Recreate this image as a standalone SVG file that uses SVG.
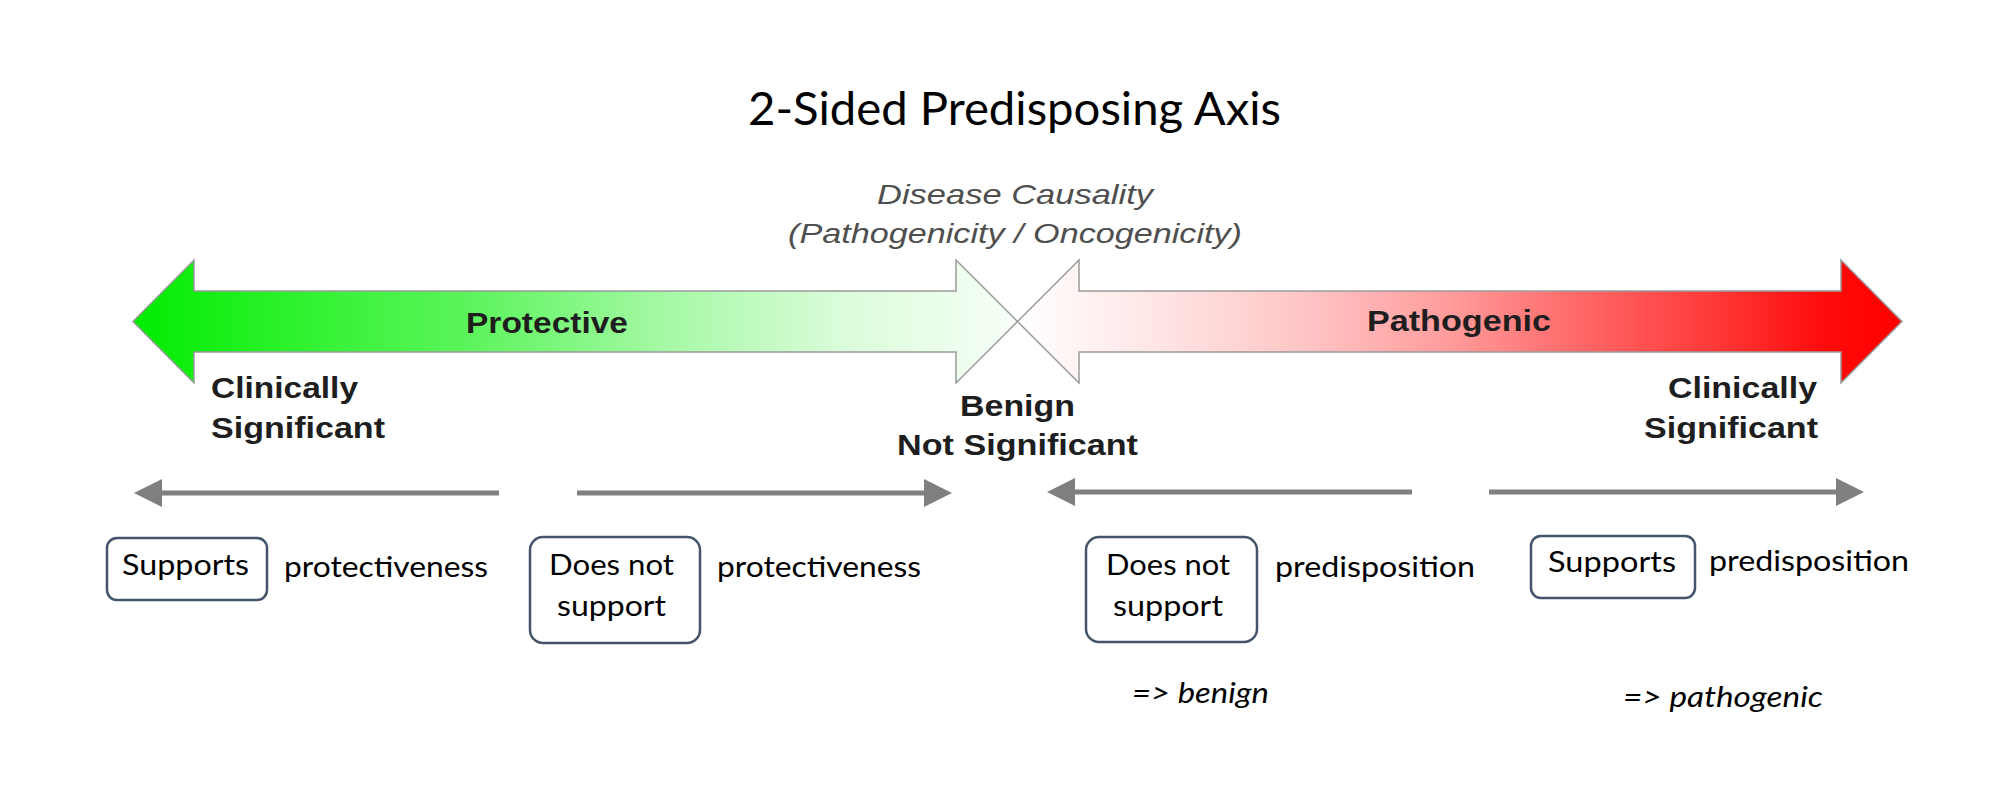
<svg xmlns="http://www.w3.org/2000/svg" width="1999" height="805" viewBox="0 0 1999 805">
  <defs>
    <linearGradient id="gGreen" gradientUnits="userSpaceOnUse" x1="133" y1="0" x2="1018" y2="0">
      <stop offset="0" stop-color="#00ec00"/>
      <stop offset="0.19" stop-color="#30f230"/>
      <stop offset="0.38" stop-color="#5cf45c"/>
      <stop offset="0.61" stop-color="#a8f9a8"/>
      <stop offset="0.8" stop-color="#dafcda"/>
      <stop offset="1" stop-color="#f7fff7"/>
    </linearGradient>
    <linearGradient id="gRed" gradientUnits="userSpaceOnUse" x1="1018" y1="0" x2="1902" y2="0">
      <stop offset="0" stop-color="#ffffff"/>
      <stop offset="0.15" stop-color="#ffe6e6"/>
      <stop offset="0.32" stop-color="#ffc6c6"/>
      <stop offset="0.49" stop-color="#ff9b9b"/>
      <stop offset="0.64" stop-color="#ff6666"/>
      <stop offset="0.79" stop-color="#ff3838"/>
      <stop offset="0.91" stop-color="#ff0c0c"/>
      <stop offset="1" stop-color="#ff0000"/>
    </linearGradient>
    <marker id="head" viewBox="0 0 28 28" refX="1" refY="14" markerWidth="28" markerHeight="28" markerUnits="userSpaceOnUse" orient="auto">
      <path d="M0,0 L28,14 L0,28 Z" fill="#7f7f7f"/>
    </marker>
    <style>
      .title { font-family: Lato, "Liberation Sans", sans-serif; font-size: 46px; fill: #000; }
      .ital { font-family: "Liberation Sans", Arial, sans-serif; font-style: italic; font-size: 28px; fill: #4f4f4f; }
      .bold { font-family: "Liberation Sans", Arial, sans-serif; font-weight: bold; font-size: 29px; fill: #1e1e1e; }
      .cal { font-family: Lato, "Liberation Sans", sans-serif; font-size: 29.5px; fill: #000; }
      .cali { font-family: Lato, "Liberation Sans", sans-serif; font-size: 29.5px; font-style: italic; fill: #000; }
      .box { fill: #fff; stroke: #44546a; stroke-width: 2.5; }
      .big { stroke: #9a9a9a; stroke-width: 1.5; stroke-linejoin: miter; }
      .conn { stroke: #7f7f7f; stroke-width: 5; fill: none; marker-end: url(#head); }
    </style>
  </defs>
  <rect width="1999" height="805" fill="#ffffff"/>

  <g id="title">
    <text class="title" x="748" y="125" textLength="533" lengthAdjust="spacingAndGlyphs">2-Sided Predisposing Axis</text>
  </g>

  <g id="causality-label">
    <text class="ital" x="877" y="204" textLength="276" lengthAdjust="spacingAndGlyphs">Disease Causality</text>
    <text class="ital" x="788" y="243" textLength="454" lengthAdjust="spacingAndGlyphs">(Pathogenicity / Oncogenicity)</text>
  </g>

  <g id="protective-arrow">
    <polygon class="big" fill="url(#gGreen)" points="133,321.5 194,260 194,291 956,291 956,260 1017.5,321.5 956,383 956,352 194,352 194,383"/>
    <text class="bold" x="466" y="333" textLength="162" lengthAdjust="spacingAndGlyphs">Protective</text>
  </g>

  <g id="pathogenic-arrow">
    <polygon class="big" fill="url(#gRed)" points="1017.5,321.5 1079,260 1079,291 1841,291 1841,260 1902,321.5 1841,383 1841,352 1079,352 1079,383"/>
    <text class="bold" x="1367" y="331" textLength="184" lengthAdjust="spacingAndGlyphs">Pathogenic</text>
  </g>

  <g id="left-clinically-significant">
    <text class="bold" x="211" y="398" textLength="147" lengthAdjust="spacingAndGlyphs">Clinically</text>
    <text class="bold" x="211" y="438" textLength="174" lengthAdjust="spacingAndGlyphs">Significant</text>
  </g>

  <g id="benign-not-significant">
    <text class="bold" x="960" y="416" textLength="115" lengthAdjust="spacingAndGlyphs">Benign</text>
    <text class="bold" x="897" y="455" textLength="241" lengthAdjust="spacingAndGlyphs">Not Significant</text>
  </g>

  <g id="right-clinically-significant">
    <text class="bold" x="1668" y="398" textLength="149" lengthAdjust="spacingAndGlyphs">Clinically</text>
    <text class="bold" x="1644" y="438" textLength="174" lengthAdjust="spacingAndGlyphs">Significant</text>
  </g>

  <g id="connectors">
    <line class="conn" x1="499" y1="493" x2="161" y2="493"/>
    <line class="conn" x1="577" y1="493" x2="925" y2="493"/>
    <line class="conn" x1="1412" y1="492" x2="1074" y2="492"/>
    <line class="conn" x1="1489" y1="492" x2="1837" y2="492"/>
  </g>

  <g id="supports-protectiveness">
    <rect class="box" x="107" y="538" width="160" height="62" rx="10"/>
    <text class="cal" x="122" y="575" textLength="127" lengthAdjust="spacingAndGlyphs">Supports</text>
    <text class="cal" x="284" y="577" textLength="204" lengthAdjust="spacingAndGlyphs">protectiveness</text>
  </g>

  <g id="does-not-support-protectiveness">
    <rect class="box" x="530" y="537" width="170" height="106" rx="13"/>
    <text class="cal" x="549" y="575" textLength="125" lengthAdjust="spacingAndGlyphs">Does not</text>
    <text class="cal" x="557" y="616" textLength="109" lengthAdjust="spacingAndGlyphs">support</text>
    <text class="cal" x="717" y="577" textLength="204" lengthAdjust="spacingAndGlyphs">protectiveness</text>
  </g>

  <g id="does-not-support-predisposition">
    <rect class="box" x="1086" y="537" width="171" height="105" rx="13"/>
    <text class="cal" x="1106" y="575" textLength="124" lengthAdjust="spacingAndGlyphs">Does not</text>
    <text class="cal" x="1113" y="616" textLength="110" lengthAdjust="spacingAndGlyphs">support</text>
    <text class="cal" x="1275" y="577" textLength="200" lengthAdjust="spacingAndGlyphs">predisposition</text>
    <text class="cali" x="1132" y="703" textLength="137" lengthAdjust="spacingAndGlyphs">=&gt; benign</text>
  </g>

  <g id="supports-predisposition">
    <rect class="box" x="1531" y="536" width="164" height="62" rx="10"/>
    <text class="cal" x="1548" y="572" textLength="128" lengthAdjust="spacingAndGlyphs">Supports</text>
    <text class="cal" x="1709" y="571" textLength="200" lengthAdjust="spacingAndGlyphs">predisposition</text>
    <text class="cali" x="1623" y="707" textLength="200" lengthAdjust="spacingAndGlyphs">=&gt; pathogenic</text>
  </g>
</svg>
